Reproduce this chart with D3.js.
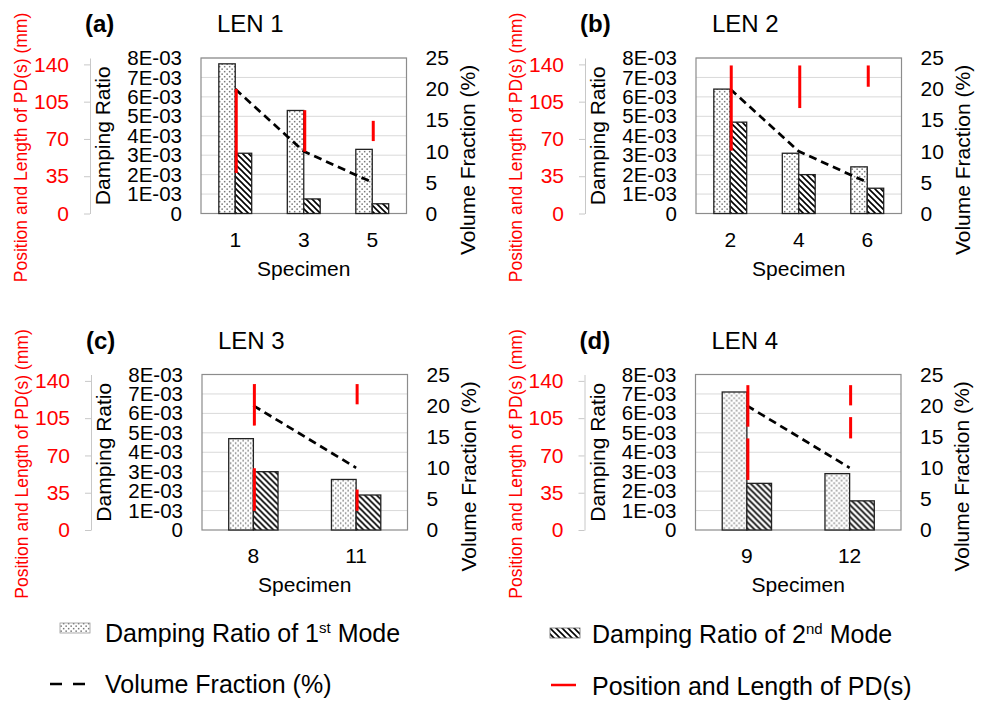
<!DOCTYPE html>
<html>
<head>
<meta charset="utf-8">
<script src="https://cdn.jsdelivr.net/npm/d3@7"></script>
<style>
body { margin: 0; background: #fff; }
text { font-family: "Liberation Sans", Arial, sans-serif; }
</style>
</head>
<body>
<svg id="chart" width="983" height="703"></svg>
<script>
'use strict';

// panel data
var panelTags = ['(a)', '(b)', '(c)', '(d)'];
var panelTitles = ['LEN 1', 'LEN 2', 'LEN 3', 'LEN 4'];
var specimens = [['1', '3', '5'], ['2', '4', '6'], ['8', '11'], ['9', '12']];
var mode1 = [[7.7e-3, 5.3e-3, 3.3e-3], [6.4e-3, 3.1e-3, 2.4e-3], [4.7e-3, 2.6e-3], [7.1e-3, 2.9e-3]];
var mode2 = [[3.1e-3, 0.75e-3, 0.5e-3], [4.7e-3, 2.0e-3, 1.3e-3], [3.0e-3, 1.8e-3], [2.4e-3, 1.5e-3]];
var volumeFraction = [[20, 10, 5], [20, 10, 5], [20, 10], [20, 10]];
// [start, end] of each PD in mm, per specimen
var pdSegments = [
	[[[38, 117]], [[58, 97]], [[68, 87]]],
	[[[59, 139]], [[99, 139]], [[119, 139]]],
	[[[18, 58], [98, 137]], [[18, 38], [118, 137]]],
	[[[47, 86], [97, 136]], [[86, 106], [117, 136]]]
];

// ticks
var dampTicks = [0, 1e-3, 2e-3, 3e-3, 4e-3, 5e-3, 6e-3, 7e-3, 8e-3];
var dampTickLabels = ['0', '1E-03', '2E-03', '3E-03', '4E-03', '5E-03', '6E-03', '7E-03', '8E-03'];
var pdTicks = [0, 35, 70, 105, 140];
var vfTicks = [0, 5, 10, 15, 20, 25];

var W = 205.5, H = 155.5;
var origins = [[201, 58], [696, 58], [202, 374.5], [695.5, 374.5]];

var svg = d3.select('#chart');
var defs = svg.append('defs');

var dots = defs.append('pattern').attr('id', 'dots')
	.attr('patternUnits', 'userSpaceOnUse').attr('width', 5).attr('height', 5);
dots.append('rect').attr('width', 5).attr('height', 5).attr('fill', '#fff');
dots.append('rect').attr('x', 0.4).attr('y', 0.4).attr('width', 1.5).attr('height', 1.5).attr('fill', '#777');
dots.append('rect').attr('x', 2.9).attr('y', 2.9).attr('width', 1.5).attr('height', 1.5).attr('fill', '#777');

var stripes = defs.append('pattern').attr('id', 'stripes')
	.attr('patternUnits', 'userSpaceOnUse').attr('width', 6).attr('height', 6);
stripes.append('rect').attr('width', 6).attr('height', 6).attr('fill', '#fff');
stripes.append('path').attr('d', 'M0,0 l6,6 M-1,5 l2,2 M5,-1 l2,2')
	.attr('stroke', '#000').attr('stroke-width', 1.6);

function styleAxis(g, size, color) {
	g.attr('font-family', null).attr('font-size', null);
	g.selectAll('text').style('font-size', size + 'px').attr('fill', color);
}

function drawPanel(i) {
	var ox = origins[i][0], oy = origins[i][1];
	var g = svg.append('g').attr('transform', 'translate(' + ox + ',' + oy + ')');

	var x = d3.scaleBand().domain(specimens[i]).range([0, W]).paddingInner(0.52).paddingOuter(0.26);
	var yDamp = d3.scaleLinear().domain([0, 8e-3]).range([H, 0]);
	var yVf = d3.scaleLinear().domain([0, 25]).range([H, 0]);
	var yPd = d3.scaleLinear().domain([0, 146]).range([H, 0]);

	// gridlines
	g.selectAll('.grid').data(dampTicks.slice(1)).enter().append('line')
		.attr('x1', 0).attr('x2', W)
		.attr('y1', function(d){ return yDamp(d); })
		.attr('y2', function(d){ return yDamp(d); })
		.attr('stroke', '#d9d9d9').attr('stroke-width', 1);

	g.append('rect').attr('width', W).attr('height', H)
		.attr('fill', 'none').attr('stroke', '#8c8c8c').attr('stroke-width', 1.2);

	var bw = x.bandwidth() / 2;
	g.selectAll('.m1').data(specimens[i]).enter().append('rect')
		.attr('x', function(d){ return x(d); })
		.attr('y', function(d, j){ return yDamp(mode1[i][j]); })
		.attr('width', bw)
		.attr('height', function(d, j){ return H - yDamp(mode1[i][j]); })
		.attr('fill', 'url(#dots)').attr('stroke', '#222').attr('stroke-width', 1.3);
	g.selectAll('.m2').data(specimens[i]).enter().append('rect')
		.attr('x', function(d){ return x(d) + bw; })
		.attr('y', function(d, j){ return yDamp(mode2[i][j]); })
		.attr('width', bw)
		.attr('height', function(d, j){ return H - yDamp(mode2[i][j]); })
		.attr('fill', 'url(#stripes)').attr('stroke', '#222').attr('stroke-width', 1.3);

	// volume fraction
	var line = d3.line()
		.x(function(d, j){ return x(specimens[i][j]) + bw; })
		.y(function(d){ return yVf(d); });
	g.append('path').datum(volumeFraction[i]).attr('d', line)
		.attr('fill', 'none').attr('stroke', '#000').attr('stroke-width', 2.7)
		.attr('stroke-dasharray', '8,5');

	// PD segments
	specimens[i].forEach(function(s, j){
		g.selectAll(null).data(pdSegments[i][j]).enter().append('line')
			.attr('x1', x(s) + bw + 1).attr('x2', x(s) + bw + 1)
			.attr('y1', function(d){ return yPd(d[0]); })
			.attr('y2', function(d){ return yPd(d[1]); })
			.attr('stroke', '#ff0000').attr('stroke-width', 3);
	});

	// axes
	var aDamp = g.append('g')
		.call(d3.axisLeft(yDamp).tickValues(dampTicks).tickSize(0).tickPadding(19)
			.tickFormat(function(d, k){ return dampTickLabels[k]; }));
	aDamp.select('.domain').remove();
	styleAxis(aDamp, 20.5, '#000');

	var aVf = g.append('g').attr('transform', 'translate(' + W + ',0)')
		.call(d3.axisRight(yVf).tickValues(vfTicks).tickSize(0).tickPadding(19));
	aVf.select('.domain').remove();
	styleAxis(aVf, 21, '#000');

	var aPd = g.append('g').attr('transform', 'translate(-111,0)')
		.call(d3.axisLeft(yPd).tickValues(pdTicks).tickSize(6).tickSizeOuter(0).tickPadding(15));
	aPd.select('.domain').attr('stroke', '#c8c8c8');
	aPd.selectAll('.tick line').attr('stroke', '#c8c8c8');
	styleAxis(aPd, 21, '#ff0000');

	g.selectAll('.xl').data(specimens[i]).enter().append('text')
		.attr('x', function(d){ return x(d) + bw; })
		.attr('y', H + 33)
		.attr('text-anchor', 'middle').style('font-size', '21px')
		.text(function(d){ return d; });

	// titles
	g.append('text').attr('x', W / 2).attr('y', H + 62)
		.attr('text-anchor', 'middle').style('font-size', '21px').text('Specimen');
	g.append('text').attr('transform', 'translate(-91,' + (H / 2) + ') rotate(-90)')
		.attr('text-anchor', 'middle').style('font-size', '21px').text('Damping Ratio');
	g.append('text')
		.attr('transform', 'translate(' + (W + 68) + ',102) rotate(-90)')
		.attr('text-anchor', 'middle').style('font-size', '21px').text('Volume Fraction (%)');
	g.append('text').attr('transform', 'translate(-174,89.5) rotate(-90)')
		.attr('text-anchor', 'middle').attr('fill', '#ff0000').style('font-size', '17.5px')
		.text('Position and Length of PD(s) (mm)');
	g.append('text').attr('x', -116).attr('y', -26)
		.style('font-size', '24px').style('font-weight', 'bold').text(panelTags[i]);
	g.append('text').attr('x', 16).attr('y', -26)
		.style('font-size', '24px').text(panelTitles[i]);
}

for (var i = 0; i < 4; i++) drawPanel(i);

// legend
var lg = svg.append('g');
lg.append('rect').attr('x', 60).attr('y', 623).attr('width', 30).attr('height', 10)
	.attr('fill', 'url(#dots)').attr('stroke', '#999').attr('stroke-width', 0.8);
var t1 = lg.append('text').attr('x', 105).attr('y', 642).style('font-size', '25px');
t1.append('tspan').text('Damping Ratio of 1');
t1.append('tspan').attr('dy', -9).style('font-size', '15px').text('st');
t1.append('tspan').attr('dy', 9).text(' Mode');

lg.append('line').attr('x1', 50).attr('x2', 87).attr('y1', 684).attr('y2', 684)
	.attr('stroke', '#000').attr('stroke-width', 2.5).attr('stroke-dasharray', '12,11');
lg.append('text').attr('x', 105).attr('y', 693).style('font-size', '25px').text('Volume Fraction (%)');

lg.append('rect').attr('x', 550).attr('y', 628).attr('width', 30).attr('height', 10)
	.attr('fill', 'url(#stripes)').attr('stroke', '#666').attr('stroke-width', 0.8);
var t2 = lg.append('text').attr('x', 592).attr('y', 643).style('font-size', '25px');
t2.append('tspan').text('Damping Ratio of 2');
t2.append('tspan').attr('dy', -9).style('font-size', '15px').text('nd');
t2.append('tspan').attr('dy', 9).text(' Mode');

lg.append('line').attr('x1', 551).attr('x2', 576).attr('y1', 685).attr('y2', 685)
	.attr('stroke', '#ff0000').attr('stroke-width', 2.5);
lg.append('text').attr('x', 592).attr('y', 695).style('font-size', '25px').text('Position and Length of PD(s)');
</script>
</body>
</html>
